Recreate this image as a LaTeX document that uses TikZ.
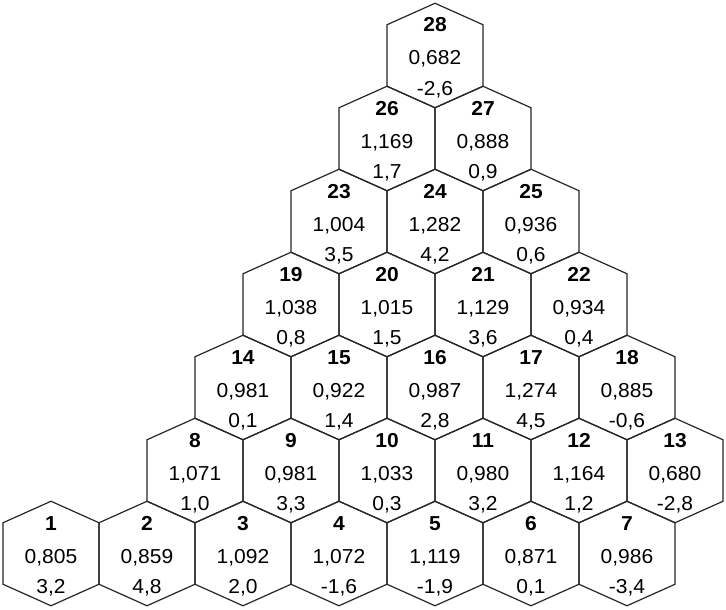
\documentclass[tikz,border=0pt]{standalone}
\usepackage{fontspec}
\setmainfont{Liberation Sans}
\newfontfamily\hexfont[FakeStretch=1.04]{Liberation Sans}
\begin{document}
\begin{tikzpicture}[x=1pt,y=-1pt,
  hexline/.style={draw=black!85, line width=1.2pt, line join=miter},
  numlbl/.style={font=\hexfont\fontsize{20.2}{21}\selectfont\bfseries, anchor=base, inner sep=0pt},
  vallbl/.style={font=\hexfont\fontsize{20.2}{21}\selectfont, anchor=base, inner sep=0pt}]
\useasboundingbox (0,0) rectangle (726,610);
\foreach \n/\x/\y/\a/\b in {
  1/51/553.5/{0,805}/{3,2},
  2/147/553.5/{0,859}/{4,8},
  3/243/553.5/{1,092}/{2,0},
  4/339/553.5/{1,072}/{-1,6},
  5/435/553.5/{1,119}/{-1,9},
  6/531/553.5/{0,871}/{0,1},
  7/627/553.5/{0,986}/{-3,4},
  8/195/470.5/{1,071}/{1,0},
  9/291/470.5/{0,981}/{3,3},
  10/387/470.5/{1,033}/{0,3},
  11/483/470.5/{0,980}/{3,2},
  12/579/470.5/{1,164}/{1,2},
  13/675/470.5/{0,680}/{-2,8},
  14/243/387.5/{0,981}/{0,1},
  15/339/387.5/{0,922}/{1,4},
  16/435/387.5/{0,987}/{2,8},
  17/531/387.5/{1,274}/{4,5},
  18/627/387.5/{0,885}/{-0,6},
  19/291/304.5/{1,038}/{0,8},
  20/387/304.5/{1,015}/{1,5},
  21/483/304.5/{1,129}/{3,6},
  22/579/304.5/{0,934}/{0,4},
  23/339/221.5/{1,004}/{3,5},
  24/435/221.5/{1,282}/{4,2},
  25/531/221.5/{0,936}/{0,6},
  26/387/138.5/{1,169}/{1,7},
  27/483/138.5/{0,888}/{0,9},
  28/435/55.5/{0,682}/{-2,6}} {
  \coordinate (c\n) at (\x,\y);
  \draw[hexline] (\x,{\y-52.25}) -- ({\x+48},{\y-30.75}) -- ({\x+48},{\y+30.75})
     -- (\x,{\y+52.25}) -- ({\x-48},{\y+30.75}) -- ({\x-48},{\y-30.75}) -- cycle;
  \node[numlbl] (n\n) at (\x,{\y-23.5}) {\n};
  \node[vallbl] (v\n) at (\x,{\y+9.5}) {\a};
  \node[vallbl] (w\n) at (\x,{\y+40}) {\b};
}
\end{tikzpicture}
\end{document}
